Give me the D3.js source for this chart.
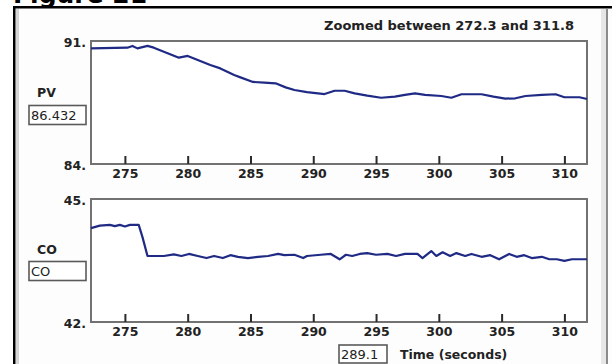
<!DOCTYPE html>
<html>
<head>
<meta charset="utf-8">
<script src="https://cdn.jsdelivr.net/npm/d3@7"></script>
<style>
  html, body { margin: 0; padding: 0; background: #ffffff; }
  svg { display: block; }
  text { font-family: "DejaVu Sans", sans-serif; }
</style>
</head>
<body>
<svg id="chart" width="612" height="364"></svg>
<script>
// Zoom window and axis ticks
const zoomRange = [272.3, 311.8];
const timeTicks = [275, 280, 285, 290, 295, 300, 305, 310];
const pvRange = [84, 91];
const coRange = [42, 45];

// Process variable trace (time in seconds, value)
const pvTime = [272.3, 275.2, 275.6, 276.0, 276.8, 277.3, 278.1, 279.3, 280.0, 280.8, 281.8, 282.6,
  283.7, 284.2, 285.2, 286.1, 287.0, 287.8, 288.5, 289.5, 290.9, 291.7, 292.5, 293.3, 294.3, 295.4,
  296.5, 297.3, 298.1, 298.9, 300.2, 301.0, 301.8, 303.4, 304.35, 305.3, 306.1, 306.9, 308.2, 309.3,
  310.0, 311.2, 311.8];
const pvValue = [90.58, 90.62, 90.72, 90.58, 90.72, 90.62, 90.39, 90.05, 90.15, 89.92, 89.63, 89.44,
  89.06, 88.93, 88.67, 88.63, 88.59, 88.36, 88.21, 88.09, 87.98, 88.17, 88.17, 88.02, 87.89, 87.77,
  87.83, 87.93, 88.02, 87.93, 87.87, 87.77, 87.97, 87.97, 87.83, 87.72, 87.74, 87.87, 87.93, 87.97,
  87.80, 87.80, 87.70];

// Controller output trace (time in seconds, value)
const coTime = [272.3, 273.0, 273.8, 274.2, 274.6, 275.0, 275.4, 276.1, 276.4, 276.8, 278.1, 278.9,
  279.5, 280.1, 280.8, 281.5, 282.1, 282.8, 283.4, 284.0, 284.8, 285.6, 286.4, 287.2, 287.7, 288.5,
  289.2, 289.5, 290.6, 291.4, 292.1, 292.6, 293.1, 293.7, 294.3, 295.0, 295.9, 296.6, 297.3, 298.3,
  298.7, 299.4, 299.8, 300.3, 300.9, 301.4, 302.1, 302.6, 303.4, 304.1, 304.8, 305.6, 306.2, 306.8,
  307.4, 308.2, 308.8, 309.4, 310.0, 310.6, 311.8];
const coValue = [44.29, 44.35, 44.37, 44.34, 44.37, 44.33, 44.37, 44.37, 44.07, 43.61, 43.61, 43.65,
  43.61, 43.66, 43.61, 43.56, 43.61, 43.56, 43.63, 43.59, 43.56, 43.59, 43.61, 43.66, 43.63, 43.64,
  43.56, 43.61, 43.64, 43.66, 43.53, 43.64, 43.61, 43.66, 43.68, 43.64, 43.66, 43.61, 43.66, 43.66,
  43.56, 43.73, 43.61, 43.70, 43.61, 43.68, 43.61, 43.66, 43.59, 43.63, 43.53, 43.66, 43.59, 43.63,
  43.56, 43.59, 43.53, 43.53, 43.49, 43.53, 43.53];

const cursorTime = "289.1";
const pvReadout = "86.432";
const coReadout = "CO";
const titleText = "Zoomed between " + zoomRange[0] + " and " + zoomRange[1];

const svg = d3.select("#chart");
const lineColor = "#1f2a85";
const frameGray = "#727272";

// Caption above the window, mostly clipped by the page top
svg.append("text")
  .attr("x", 13).attr("y", 3)
  .attr("font-family", "'Liberation Serif', serif")
  .attr("font-weight", "bold")
  .attr("font-size", 25)
  .attr("fill", "#000")
  .text("Figure 21");

// Window frame
svg.append("rect").attr("x", 15).attr("y", 8).attr("width", 597).attr("height", 356).attr("fill", "#fdfdfd");
svg.append("rect").attr("x", 16).attr("y", 9).attr("width", 3).attr("height", 355).attr("fill", "#d6d6d6");
svg.append("rect").attr("x", 601).attr("y", 9).attr("width", 5).attr("height", 355).attr("fill", "#e6e6e6");
svg.append("rect").attr("x", 606).attr("y", 9).attr("width", 2).attr("height", 355).attr("fill", "#8a8a8a");
svg.append("rect").attr("x", 13).attr("y", 6).attr("width", 599).attr("height", 2.5).attr("fill", "#000");
svg.append("rect").attr("x", 13).attr("y", 6).attr("width", 2.5).attr("height", 358).attr("fill", "#000");

svg.append("text")
  .attr("x", 449).attr("y", 25)
  .attr("text-anchor", "middle").attr("dominant-baseline", "central")
  .attr("font-size", 13).attr("font-weight", "bold").attr("fill", "#222")
  .text(titleText);

const x = d3.scaleLinear().domain(zoomRange).range([91, 587]);

function panel(top, bottom, yDomain, times, values, label, readout, labelY, boxY) {
  const y = d3.scaleLinear().domain(yDomain).range([bottom, top]);
  const g = svg.append("g");

  g.append("rect")
    .attr("x", x.range()[0]).attr("y", top)
    .attr("width", x.range()[1] - x.range()[0]).attr("height", bottom - top)
    .attr("fill", "#ffffff").attr("stroke", frameGray).attr("stroke-width", 2);

  // Time ticks rise from the bottom edge, labels sit below
  const axis = d3.axisBottom(x).tickValues(timeTicks).tickSizeInner(-8).tickSizeOuter(0).tickPadding(5);
  const ax = g.append("g").attr("transform", `translate(0,${bottom})`).call(axis);
  ax.select(".domain").remove();
  ax.selectAll(".tick line").attr("stroke", "#2a2a2a").attr("stroke-width", 2);
  ax.selectAll(".tick text")
    .attr("font-family", "'DejaVu Sans', sans-serif")
    .attr("font-size", 12.5).attr("font-weight", "bold").attr("fill", "#222");

  // Range labels at the top and bottom of the value axis
  yDomain.forEach(v => {
    g.append("text")
      .attr("x", 86).attr("y", y(v) + 1)
      .attr("text-anchor", "end").attr("dominant-baseline", "central")
      .attr("font-size", 12.5).attr("font-weight", "bold").attr("fill", "#222")
      .text(v + ".");
  });

  g.append("path")
    .datum(times.map((t, i) => [t, values[i]]))
    .attr("fill", "none").attr("stroke", lineColor).attr("stroke-width", 2.2)
    .attr("stroke-linejoin", "round")
    .attr("d", d3.line().x(d => x(d[0])).y(d => y(d[1])));

  g.append("text")
    .attr("x", 37).attr("y", labelY)
    .attr("dominant-baseline", "central")
    .attr("font-size", 12.5).attr("font-weight", "bold").attr("fill", "#222")
    .text(label);

  g.append("rect")
    .attr("x", 29).attr("y", boxY).attr("width", 57).attr("height", 19)
    .attr("fill", "#ffffff").attr("stroke", "#5a5a5a").attr("stroke-width", 1.6);
  g.append("text")
    .attr("x", 31).attr("y", boxY + 10)
    .attr("dominant-baseline", "central")
    .attr("font-size", 13).attr("fill", "#222")
    .text(readout);
}

panel(41, 164, pvRange, pvTime, pvValue, "PV", pvReadout, 92, 105.5);
panel(199, 322, coRange, coTime, coValue, "CO", coReadout, 249, 261.5);

// Cursor time readout and axis title
svg.append("rect")
  .attr("x", 339).attr("y", 345).attr("width", 48).attr("height", 18)
  .attr("fill", "#ffffff").attr("stroke", "#5a5a5a").attr("stroke-width", 1.6);
svg.append("text")
  .attr("x", 341).attr("y", 354.5).attr("dominant-baseline", "central")
  .attr("font-size", 13).attr("fill", "#222")
  .text(cursorTime);
svg.append("text")
  .attr("x", 400).attr("y", 354).attr("dominant-baseline", "central")
  .attr("font-size", 12.5).attr("font-weight", "bold").attr("fill", "#222")
  .text("Time (seconds)");
</script>
</body>
</html>
